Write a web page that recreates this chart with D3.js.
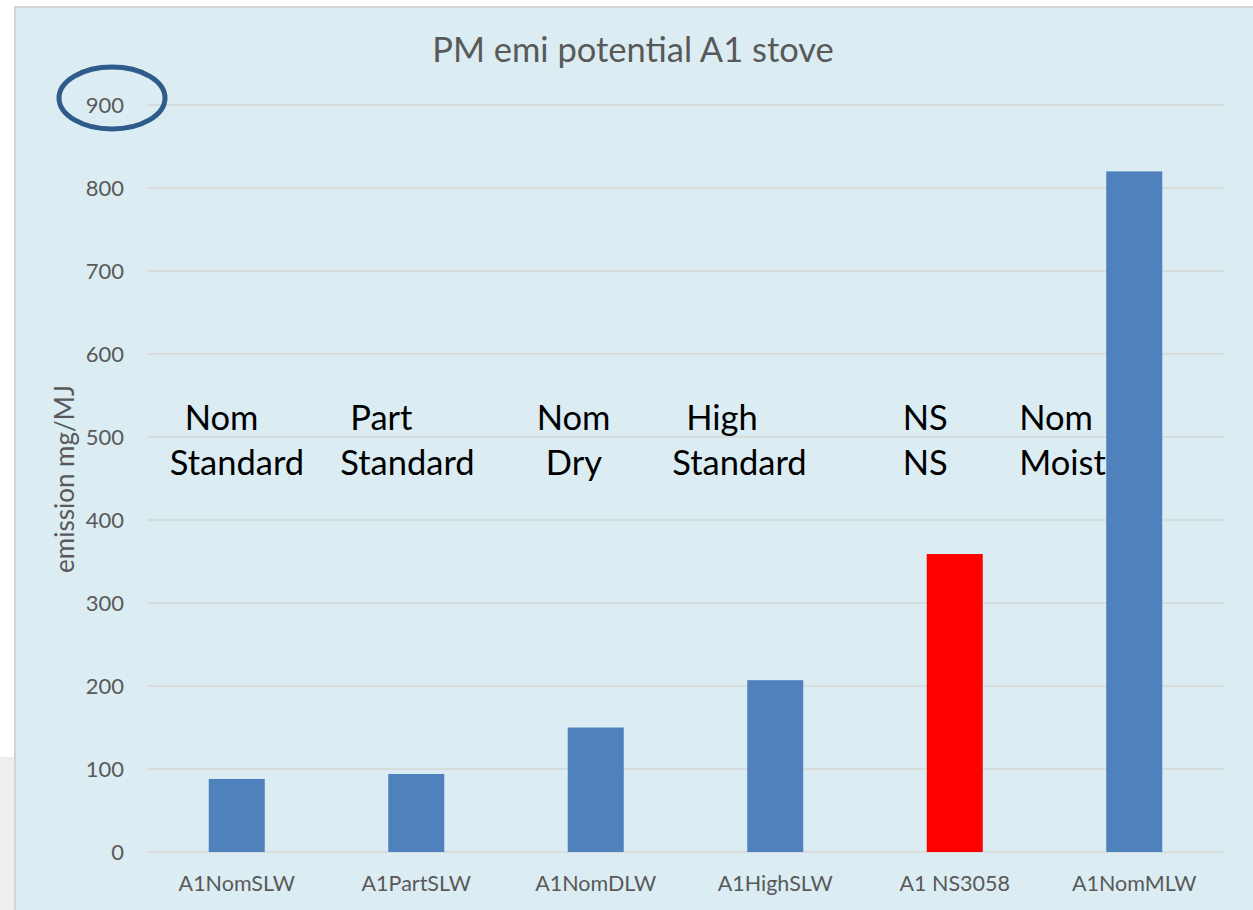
<!DOCTYPE html>
<html><head><meta charset="utf-8">
<script src="https://cdn.jsdelivr.net/npm/d3@7"></script>
<style>html,body{margin:0;padding:0;background:#fff;}svg{display:block;}</style>
</head><body>
<svg id="c" width="1253" height="910"></svg>
<script>
const categories = ["A1NomSLW","A1PartSLW","A1NomDLW","A1HighSLW","A1 NS3058","A1NomMLW"];
const values = [88, 94, 150, 207, 359, 820];
const barColors = ["#4F81BD","#4F81BD","#4F81BD","#4F81BD","#FF0000","#4F81BD"];
const yTicks = [0,100,200,300,400,500,600,700,800,900];
const noteLine1 = ["Nom","Part","Nom","High","NS","Nom"];
const noteLine2 = ["Standard","Standard","Dry","Standard","NS","Moist"];
const titleText = "PM emi potential A1 stove";
const yTitle = "emission mg/MJ";

(function(){
const svg = d3.select("#c");
const font = "Lato, 'Open Sans', sans-serif";
// frame
svg.append("rect").attr("x",0).attr("y",0).attr("width",1253).attr("height",910).attr("fill","#fff");
svg.append("rect").attr("x",0).attr("y",757).attr("width",14).attr("height",153).attr("fill","#eeeeee");
svg.append("rect").attr("x",15).attr("y",7).attr("width",1250).attr("height",910)
  .attr("fill","#DBEDF3").attr("stroke","#D4D4D4").attr("stroke-width",2);

const pl = 147, pr = 1224, pt = 105, pb = 852;
const x = d3.scaleBand().domain(categories).range([pl,pr]).paddingInner(0.688).paddingOuter(0.344);
const y = d3.scaleLinear().domain([0,900]).range([pb,pt]);

// gridlines
svg.append("g").selectAll("line").data(yTicks).join("line")
  .attr("x1",pl).attr("x2",pr).attr("y1",d=>y(d)).attr("y2",d=>y(d))
  .attr("stroke","#D6D6D6").attr("stroke-width",1.6);

// y axis labels
const ya = svg.append("g").attr("transform",`translate(${pl-23},0)`)
  .call(d3.axisLeft(y).tickValues(yTicks).tickSize(0).tickPadding(0));
ya.select(".domain").remove();
ya.selectAll("text").attr("font-family",font).attr("font-size",22).attr("fill","#595959").attr("dy","0.35em");

// bars
svg.append("g").selectAll("rect").data(categories).join("rect")
  .attr("x",d=>x(d)).attr("width",x.bandwidth())
  .attr("y",(d,i)=>y(values[i])).attr("height",(d,i)=>y(0)-y(values[i]))
  .attr("fill",(d,i)=>barColors[i]);

// x axis labels
const xa = svg.append("g").attr("transform",`translate(0,${pb+31})`)
  .call(d3.axisBottom(x).tickSize(0).tickPadding(0));
xa.select(".domain").remove();
xa.selectAll("text").attr("font-family",font).attr("font-size",21.5).attr("fill","#595959").attr("dy","0.35em");

// title
svg.append("text").attr("x",633).attr("y",62).attr("text-anchor","middle")
  .attr("font-family",font).attr("font-size",34.5).attr("fill","#595959").text(titleText);

// y title
svg.append("text").attr("transform","translate(74,479) rotate(-90)").attr("text-anchor","middle")
  .attr("font-family",font).attr("font-size",26).attr("fill","#595959").text(yTitle);

// annotations (text boxes placed relative to each band centre)
const off1 = [-52,-66,-59,-89,-52,-115];
const off2 = [-67,-76,-50,-103,-52,-115];
const ann = svg.append("g").attr("font-family",font).attr("font-size",34.5).attr("fill","#000");
categories.forEach((c,i)=>{
  const cx = x(c)+x.bandwidth()/2;
  ann.append("text").attr("x",cx+off1[i]).attr("y",430).text(noteLine1[i]);
  ann.append("text").attr("x",cx+off2[i]).attr("y",475).text(noteLine2[i]);
});

// highlight ellipse
svg.append("ellipse").attr("cx",112).attr("cy",98).attr("rx",53).attr("ry",31)
  .attr("fill","none").attr("stroke","#2E5A8C").attr("stroke-width",5);
})();
</script>
</body></html>
